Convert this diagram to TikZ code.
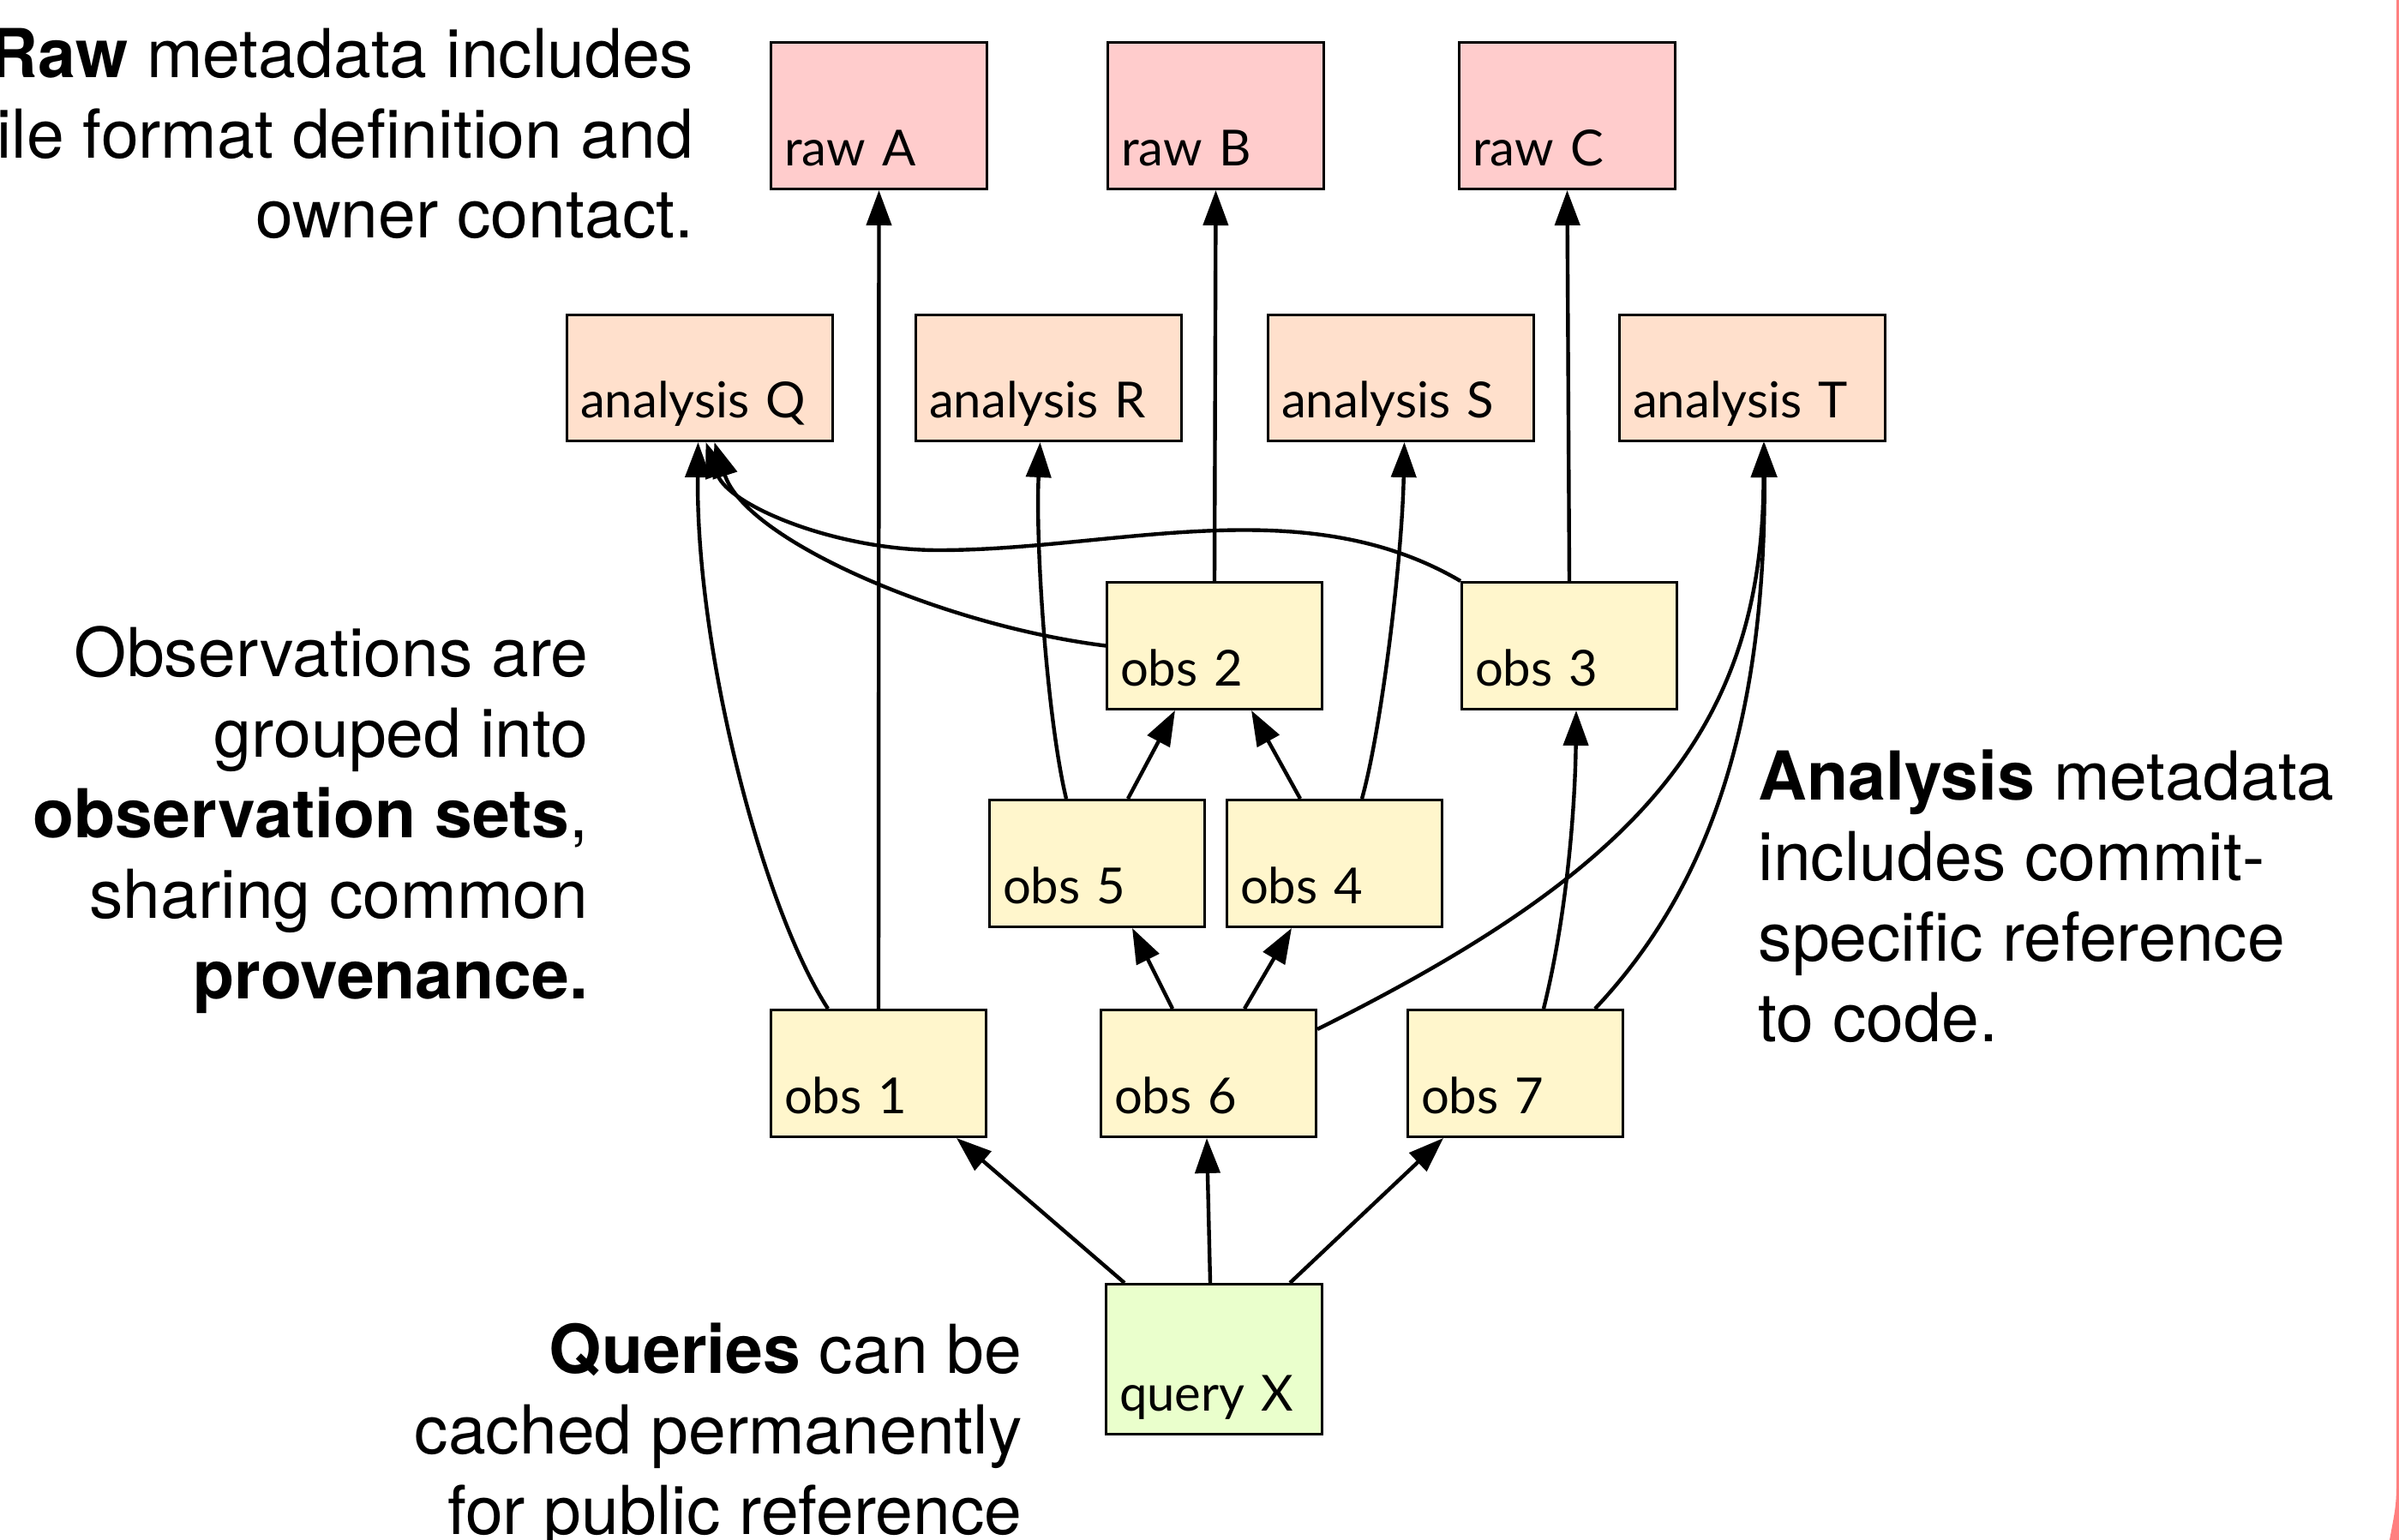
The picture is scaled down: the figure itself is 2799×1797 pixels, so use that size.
\documentclass[tikz,border=0pt]{standalone}
\usepackage{fontspec}
\setmainfont{TeX Gyre Heros}
\newfontfamily\boxfont{Lato}
\usetikzlibrary{arrows.meta,calc}

\definecolor{rawfill}{RGB}{255,204,204}
\definecolor{anfill}{RGB}{255,224,204}
\definecolor{obsfill}{RGB}{255,246,204}
\definecolor{qfill}{RGB}{234,255,204}
\definecolor{edgepink}{RGB}{255,128,128}

\begin{document}
\begin{tikzpicture}[x=0.1mm, y=-0.1mm,
  box/.style={draw=black, line width=0.3mm, inner xsep=1.55mm, inner ysep=0pt,
    anchor=north west, align=left, text depth=2.7mm,
    font=\boxfont\fontsize{16.5}{20}\selectfont},
  rawbox/.style={box, fill=rawfill, text width=22.1mm, text height=14.4mm},
  anbox/.style={box, fill=anfill, text width=27.9mm, text height=12.0mm},
  obsbox/.style={box, fill=obsfill, text width=22.0mm, text height=12.1mm},
  qbox/.style={box, fill=qfill, text width=22.1mm, text height=14.8mm},
  link/.style={line width=0.44mm, -{Triangle[length=4.1mm, width=2.9mm]}},
  note/.style={inner sep=0pt, font=\fontsize{22.4}{26.7}\selectfont}]

\useasboundingbox (0,0) rectangle (2799,1797);
\fill[white] (0,0) rectangle (2799,1797);

% slide border at the right edge
\fill[edgepink] (2796,0) -- (2799,0) -- (2799,1797) -- (2788,1797)
  to[out=80,in=-90] (2796,1735) -- cycle;

% raw data
\node[rawbox] (rawA) at (898,48)  {raw A};
\node[rawbox] (rawB) at (1291,48) {raw B};
\node[rawbox] (rawC) at (1701,48) {raw C};

% analyses
\node[anbox] (anQ) at (660,366)  {analysis Q};
\node[anbox] (anR) at (1067,366) {analysis R};
\node[anbox] (anS) at (1478,366) {analysis S};
\node[anbox] (anT) at (1888,366) {analysis T};

% observations
\node[obsbox] (obs2) at (1290,678) {obs 2};
\node[obsbox] (obs3) at (1704,678) {obs 3};
\node[obsbox] (obs5) at (1153,932) {obs 5};
\node[obsbox] (obs4) at (1430,932) {obs 4};
\node[obsbox] (obs1) at (898,1177)  {obs 1};
\node[obsbox] (obs6) at (1283,1177) {obs 6};
\node[obsbox] (obs7) at (1641,1177) {obs 7};

% query
\node[qbox] (qX) at (1289,1497) {query X};

% waypoint of the long curve from obs 3
\coordinate (dip) at (1095,642);

% observations to raw data
\draw[link] (obs1.north) -- (rawA.south);
\draw[link] (obs2.north) -- (rawB.south);
\draw[link] (obs3.north) -- (rawC.south);

% observations to analyses
\draw[link] ($(obs1.north west)+(68,0)$) .. controls (890,1060) and (812,760) .. ($(anQ.south)+(-2,0)$);
\draw[link] (obs2.west) .. controls (1100,730) and (870,630) .. ($(anQ.south)+(17,0)$);
\draw[link] (obs3.north west) .. controls (1520,570) and (1300,642) .. (dip)
  .. controls (975,642) and (850,590) .. ($(anQ.south)+(7,0)$);
\draw[link] ($(obs5.north west)+(91,0)$) .. controls (1222,840) and (1208,640) .. ($(anR.south)+(-10,0)$);
\draw[link] ($(obs4.north west)+(159,0)$) .. controls (1612,850) and (1636,650) .. ($(anS.south)+(4,0)$);
\draw[link] ($(obs6.north east)+(0,24)$) .. controls (1900,1020) and (2058,860) .. ($(anT.south)+(13,0)$);
\draw[link] ($(obs7.north west)+(220,0)$) .. controls (1990,1040) and (2060,850) .. ($(anT.south)+(14,0)$);

% observation sets
\draw[link] ($(obs5.north west)+(163,0)$) -- ($(obs2.south west)+(81,0)$);
\draw[link] ($(obs4.north west)+(87,0)$) -- ($(obs2.south west)+(170,0)$);
\draw[link] ($(obs6.north west)+(85,0)$) -- ($(obs5.south west)+(168,0)$);
\draw[link] ($(obs6.north west)+(169,0)$) -- ($(obs4.south west)+(77,0)$);
\draw[link] ($(obs7.north west)+(160,0)$) .. controls (1830,1060) and (1838,930) .. ($(obs3.south west)+(135,0)$);

% query to observations
\draw[link] ($(qX.north west)+(23,0)$) -- ($(obs1.south west)+(218,0)$);
\draw[link] ($(qX.north west)+(123,0)$) -- ($(obs6.south west)+(125,0)$);
\draw[link] ($(qX.north west)+(216,0)$) -- ($(obs7.south west)+(43,0)$);

% explanatory notes (anchored at the baseline of their last line)
\node[note, anchor=base east, align=right] (rawnote) at (810,278)
  {\textbf{Raw} metadata includes\\file format definition and\\owner contact.};
\node[note, anchor=base east, align=right] (obsnote) at (687,1165)
  {Observations are\\grouped into\\\textbf{observation sets},\\sharing common\\\textbf{provenance.}};
\node[note, anchor=base west, align=left] (annote) at (2051,1215)
  {\textbf{Analysis} metadata\\includes commit-\\specific reference\\to code.};
\node[note, anchor=base east, align=right] (qnote) at (1193,1790)
  {\textbf{Queries} can be\\cached permanently\\for public reference};
\end{tikzpicture}
\end{document}
